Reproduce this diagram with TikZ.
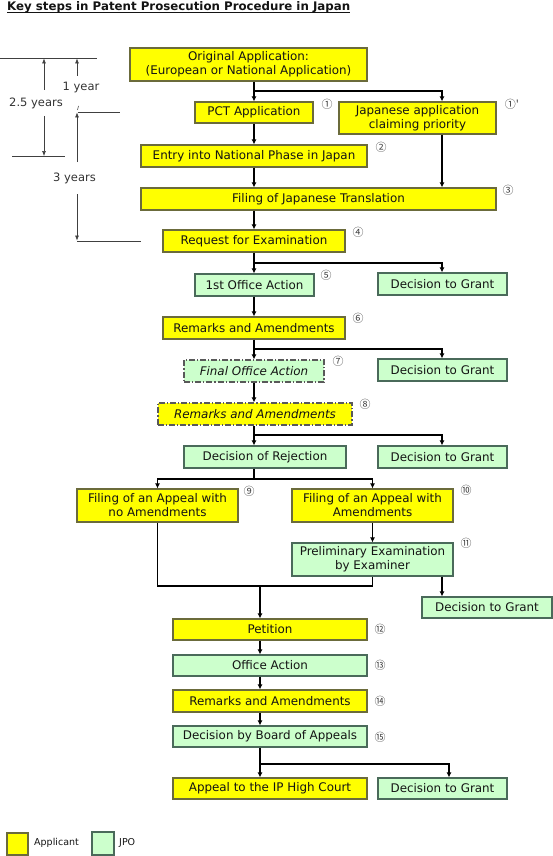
\documentclass[tikz,border=0pt]{standalone}
\usepackage{fontspec}
\setmainfont{DejaVu Sans}
\newfontfamily\cjknum{Noto Sans CJK JP}
\usetikzlibrary{arrows.meta,calc}
\definecolor{yfill}{HTML}{FFFF00}
\definecolor{gfill}{HTML}{CCFFCC}
\definecolor{ydraw}{HTML}{6B6B3B}
\definecolor{gdraw}{HTML}{4A6A5A}
\definecolor{txt}{HTML}{141414}
\begin{document}
\begin{tikzpicture}[x=1pt,y=-1pt,
  box/.style={draw, line width=1.2pt, inner sep=0pt, align=center, text=txt,
    font=\fontsize{11.9}{14}\selectfont},
  ybox/.style={box, fill=yfill, draw=ydraw},
  gbox/.style={box, fill=gfill, draw=gdraw},
  dashdot/.style={dash pattern=on 6pt off 2pt on 1.2pt off 2pt, draw=black!65},
  arr/.style={line width=1.5pt, -{Latex[length=5pt,width=5pt]}},
  ln/.style={line width=1.5pt},
  num/.style={font=\cjknum\fontsize{11}{11}\selectfont, inner sep=0pt, text=black!75},
  thinln/.style={line width=0.6pt, draw=black!75},
  tarr/.style={thinln, -{Latex[length=5pt,width=4pt]}},
  lbl/.style={font=\fontsize{11.5}{13}\selectfont, inner sep=0pt, text=black!80},
]
\useasboundingbox (0,0) rectangle (553,856);

% trunk coordinates
\coordinate (T) at (254,0);
\coordinate (R) at (442,0);
\coordinate (P) at (260,0);
\coordinate (Q) at (449,0);

% title
\node[anchor=base west, inner sep=0pt, text=txt, font=\bfseries\fontsize{11.8}{14}\selectfont] (title) at (7,10.5) {Key steps in Patent Prosecution Procedure in Japan};
\draw[line width=0.8pt, txt] ([yshift=-2pt]title.base west) -- ([yshift=-2pt]title.base east);

% boxes
\node[ybox, minimum width=237pt, minimum height=33pt] (orig) at (248.5,64.5) {Original Application:\\(European or National Application)};
\node[ybox, minimum width=118pt, minimum height=21pt] (pct) at (254,112.5) {PCT Application};
\node[ybox, minimum width=157pt, minimum height=32pt] (jap) at (417.5,118) {Japanese application\\claiming priority};
\node[ybox, minimum width=226pt, minimum height=22pt] (entry) at (254,156) {Entry into National Phase in Japan};
\node[ybox, minimum width=355pt, minimum height=22pt] (trans) at (318.5,199) {Filing of Japanese Translation};
\node[ybox, minimum width=182pt, minimum height=22pt] (req) at (254,241) {Request for Examination};
\node[gbox, minimum width=119pt, minimum height=22pt] (oa1) at (254.5,285) {1st Office Action};
\node[gbox, minimum width=129pt, minimum height=22pt] (dg1) at (442.5,284) {Decision to Grant};
\node[ybox, minimum width=182pt, minimum height=22pt] (rem1) at (254,328) {Remarks and Amendments};
\node[gbox, dashdot, minimum width=140pt, minimum height=22pt] (foa) at (254,371) {\itshape Final Office Action};
\node[gbox, minimum width=129pt, minimum height=22pt] (dg2) at (442.5,370) {Decision to Grant};
\node[ybox, dashdot, minimum width=194pt, minimum height=22pt] (rem2) at (255,414) {\itshape Remarks and Amendments};
\node[gbox, minimum width=162pt, minimum height=22pt] (rej) at (265,457) {Decision of Rejection};
\node[gbox, minimum width=129pt, minimum height=22pt] (dg3) at (442.5,457) {Decision to Grant};
\node[ybox, minimum width=161pt, minimum height=33pt] (ap1) at (157.5,505.5) {Filing of an Appeal with\\no Amendments};
\node[ybox, minimum width=161pt, minimum height=33pt] (ap2) at (372.5,505.5) {Filing of an Appeal with\\Amendments};
\node[gbox, minimum width=161pt, minimum height=33pt] (pre) at (372.5,559.5) {Preliminary Examination\\by Examiner};
\node[gbox, minimum width=130pt, minimum height=21pt] (dg4) at (487,607.5) {Decision to Grant};
\node[ybox, minimum width=194pt, minimum height=21pt] (pet) at (270,629.5) {Petition};
\node[gbox, minimum width=194pt, minimum height=21pt] (oa) at (270,665.5) {Office Action};
\node[ybox, minimum width=194pt, minimum height=22pt] (rem3) at (270,701) {Remarks and Amendments};
\node[gbox, minimum width=194pt, minimum height=21pt] (board) at (270,736.5) {Decision by Board of Appeals};
\node[ybox, minimum width=194pt, minimum height=21pt] (court) at (270,788.5) {Appeal to the IP High Court};
\node[gbox, minimum width=129pt, minimum height=21pt] (dg5) at (442.5,788.5) {Decision to Grant};

% step numbers
\node[num] (n1) at (327,104) {①};
\node[num] (n1p) at (512,104) {①'};
\node[num] (n2) at (381,147) {②};
\node[num] (n3) at (508,190) {③};
\node[num] (n4) at (358,232) {④};
\node[num] (n5) at (326,275) {⑤};
\node[num] (n6) at (358,318) {⑥};
\node[num] (n7) at (338,361) {⑦};
\node[num] (n8) at (365,404) {⑧};
\node[num] (n9) at (249,491) {⑨};
\node[num] (n10) at (466,490) {⑩};
\node[num] (n11) at (466,543) {⑪};
\node[num] (n12) at (380,629.5) {⑫};
\node[num] (n13) at (380,665.5) {⑬};
\node[num] (n14) at (380,701.5) {⑭};
\node[num] (n15) at (380,737) {⑮};

% junctions
\coordinate (j1) at (254,91);
\coordinate (j2) at (254,263);
\coordinate (j3) at (254,349);
\coordinate (j4) at (254,435);
\coordinate (j5) at (254,479);
\coordinate (j6) at (260,586);
\coordinate (j7) at (260,764);

% connectors
\draw[arr] (orig.south -| T) -- (pct.north);
\draw[arr] (j1) -| (jap.north -| R);
\draw[arr] (pct.south) -- (entry.north);
\draw[arr] (entry.south) -- (trans.north -| T);
\draw[arr] (jap.south -| R) -- (trans.north -| R);
\draw[arr] (trans.south -| T) -- (req.north);
\draw[arr] (req.south) -- (oa1.north -| T);
\draw[arr] (j2) -| (dg1.north -| R);
\draw[arr] (oa1.south -| T) -- (rem1.north);
\draw[arr] (rem1.south) -- (foa.north);
\draw[arr] (j3) -| (dg2.north -| R);
\draw[arr] (foa.south) -- (rem2.north -| T);
\draw[arr] (rem2.south -| T) -- (rej.north -| T);
\draw[arr] (j4) -| (dg3.north -| R);
\draw[ln] (rej.south -| T) -- (j5);
\draw[arr] (j5) -| (ap1.north);
\draw[arr] (j5) -| (ap2.north);
\draw[arr] (ap2.south) -- (pre.north);
\draw[ln] (ap1.south) |- (j6) -| (pre.south);
\draw[arr] (j6) -- (pet.north -| P);
\draw[arr] (pre.south -| R) -- (dg4.north -| R);
\draw[arr] (pet.south -| P) -- (oa.north -| P);
\draw[arr] (oa.south -| P) -- (rem3.north -| P);
\draw[arr] (rem3.south -| P) -- (board.north -| P);
\draw[ln] (board.south -| P) -- (j7);
\draw[arr] (j7) -- (court.north -| P);
\draw[arr] (j7) -| (dg5.north -| Q);

% timeline
\draw[thinln] (0,58) -- (97,58);
\draw[tarr] (44,90) -- (44,58.5);
\node[lbl] (t25) at (36,103) {2.5 years};
\draw[tarr] (44,116) -- (44,156);
\draw[thinln] (12,156) -- (65,156);
\draw[tarr] (77,76) -- (77,58.5);
\node[lbl] (t1) at (81,88) {1 year};
\draw[thinln] (78.5,106) -- (77.5,110);
\draw[thinln] (78,112) -- (120,112);
\draw[tarr] (77,162) -- (77,112.5);
\node[lbl] (t3) at (74.5,178) {3 years};
\draw[tarr] (77,194) -- (77,240.5);
\draw[thinln] (77,241) -- (141,241);

% legend
\node[ybox, minimum width=21pt, minimum height=22pt] (legA) at (17.5,844) {};
\node[anchor=west, inner sep=0pt, text=txt, font=\fontsize{9.5}{11}\selectfont] (legAt) at (34,843) {Applicant};
\node[gbox, minimum width=22pt, minimum height=23pt] (legJ) at (103,843.5) {};
\node[anchor=west, inner sep=0pt, text=txt, font=\fontsize{9.5}{11}\selectfont] (legJt) at (119,843) {JPO};
\end{tikzpicture}
\end{document}
